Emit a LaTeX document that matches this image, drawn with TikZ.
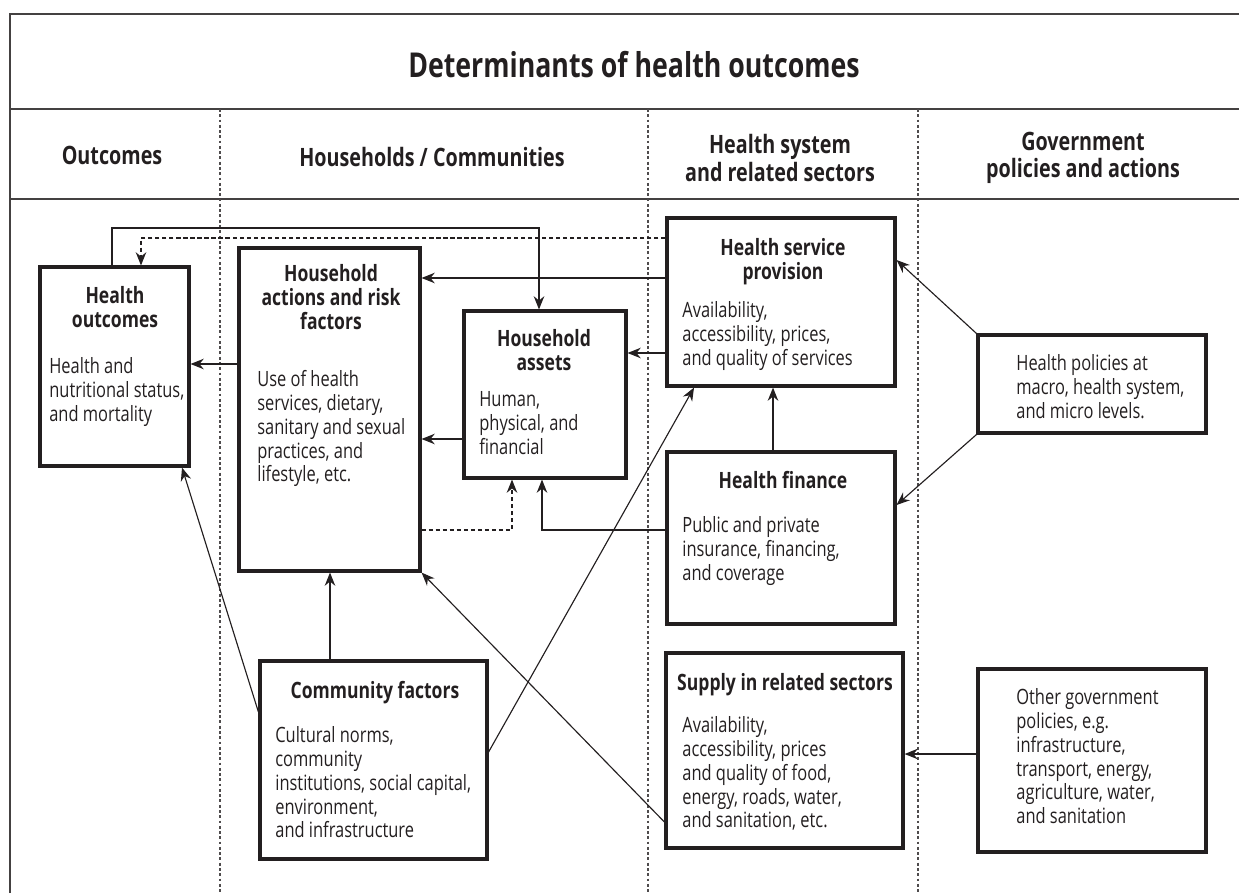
\documentclass[tikz,border=0pt]{standalone}
\usepackage{fontspec}
\setmainfont{Open Sans}[FakeStretch=0.78]
\usetikzlibrary{arrows.meta,fit}

\definecolor{ink}{HTML}{231F20}

\tikzset{
  box/.style={draw=ink, line width=1.8pt, inner sep=0pt},
  frameline/.style={draw=ink!85, line width=0.9pt},
  colsep/.style={draw=ink!80, line width=0.6pt, dash pattern=on 1.6pt off 1.4pt},
  arr/.style={draw=ink, line width=0.65pt, -{Stealth[length=7.5pt,width=6pt]}},
  dotarr/.style={arr, dash pattern=on 2.4pt off 1.6pt},
  ttl/.style={font=\fontsize{12.8}{13.6}\selectfont\bfseries, align=center, anchor=north, inner sep=0pt, text=ink},
  txt/.style={font=\fontsize{12}{13.5}\selectfont, align=left, anchor=north west, inner sep=0pt, text=ink},
  hdr/.style={font=\fontsize{14.4}{15.4}\selectfont\bfseries, align=center, inner sep=0pt, text=ink}
}

\begin{document}
\begin{tikzpicture}[x=0.02cm, y=-0.02cm]
    \useasboundingbox (0,0) rectangle (1239,893);

    % frame and columns
    \draw[frameline] (10,893) -- (10,14) -- (1239,14);
    \draw[frameline] (10,109) -- (1239,109);
    \draw[frameline] (10,199) -- (1239,199);
    \foreach \x in {220,648,918}
        \draw[colsep] (\x,109) -- (\x,893);

    \node [font=\fontsize{19.5}{22}\selectfont\bfseries, text=ink] (title) at (634,65) {Determinants of health outcomes};
    \node [hdr] (h1) at (112,155) {Outcomes};
    \node [hdr] (h2) at (432,157) {Households / Communities};
    \node [hdr] (h3) at (780,158) {Health system\\and related sectors};
    \node [hdr] (h4) at (1083,158) {Government\\policies and actions};

    % boxes
    \node [box, fit={(40,267) (189,466)}] (ho) {};
    \node [box, fit={(239,248) (420,571)}] (ha) {};
    \node [box, fit={(464,311) (626,478)}] (as) {};
    \node [box, fit={(667,218) (895,386)}] (hs) {};
    \node [box, fit={(667,452) (895,624)}] (hf) {};
    \node [box, fit={(666,653) (903,848)}] (sr) {};
    \node [box, fit={(260,661) (487,859)}] (cf) {};
    \node [box, fit={(978,335) (1206,433)}] (hp) {};
    \node [box, fit={(978,669) (1206,852)}] (og) {};

    % box texts
    \node [ttl] (hoT) at (115,286) {Health\\outcomes};
    \node [txt] (hoB) at (49,357.5) {Health and\\nutritional status,\\and mortality};
    \node [ttl] (haT) at (331,264) {Household\\actions and risk\\factors};
    \node [txt] (haB) at (257,370.5) {Use of health\\services, dietary,\\sanitary and sexual\\practices, and\\lifestyle, etc.};
    \node [ttl] (asT) at (544,329) {Household\\assets};
    \node [txt] (asB) at (479,391.5) {Human,\\physical, and\\financial};
    \node [ttl] (hsT) at (783,238) {Health service\\provision};
    \node [txt] (hsB) at (682,301.5) {Availability,\\accessibility, prices,\\and quality of services};
    \node [ttl] (hfT) at (783,471) {Health finance};
    \node [txt] (hfB) at (682,516.5) {Public and private\\insurance, financing,\\and coverage};
    \node [ttl] (srT) at (785,673) {Supply in related sectors};
    \node [txt] (srB) at (682,716.5) {Availability,\\accessibility, prices\\and quality of food,\\energy, roads, water,\\and sanitation, etc.};
    \node [ttl] (cfT) at (375,681) {Community factors};
    \node [txt] (cfB) at (275,726.5) {Cultural norms,\\community\\institutions, social capital,\\environment,\\and infrastructure};
    \node [txt] (hpB) at (1016,354.5) {Health policies at\\macro, health system,\\and micro levels.};
    \node [txt] (ogB) at (1016,688.5) {Other government\\policies, e.g.\\infrastructure,\\transport, energy,\\agriculture, water,\\and sanitation};

    % top loops
    \draw[arr] (ho.north -| 112,0) |- (539,228) -- (as.north -| 539,0);
    \draw[dotarr] (hs.west |- 0,238) -| (ho.north -| 141,0);

    % health service provision
    \draw[arr] (hs.west |- 0,278) -- (ha.east |- 0,278);
    \draw[arr] (hs.west |- 0,353) -- (as.east |- 0,353);

    % households
    \draw[arr] (ha.west |- 0,364) -- (ho.east |- 0,364);
    \draw[arr] (as.west |- 0,439) -- (ha.east |- 0,439);
    \draw[dotarr] (ha.east |- 0,530) -| (as.south -| 512,0);
    \draw[arr] (hf.west |- 0,530) -| (as.south -| 542,0);
    \draw[arr] (hf.north -| 773,0) -- (hs.south -| 773,0);

    % government
    \draw[arr] (hp.north west) -- (hs.east |- 0,260);
    \draw[arr] (hp.south west) -- (hf.east |- 0,505);
    \draw[arr] (og.west |- 0,754) -- (sr.east |- 0,754);

    % community and related sectors
    \draw[arr] (cf.north -| 330,0) -- (ha.south -| 330,0);
    \draw[arr] (cf.west |- 0,712) -- (ho.south -| 182,0);
    \draw[arr] (cf.east |- 0,752) -- (hs.south -| 694,0);
    \draw[arr] (sr.west |- 0,822) -- (ha.south east);
\end{tikzpicture}
\end{document}
